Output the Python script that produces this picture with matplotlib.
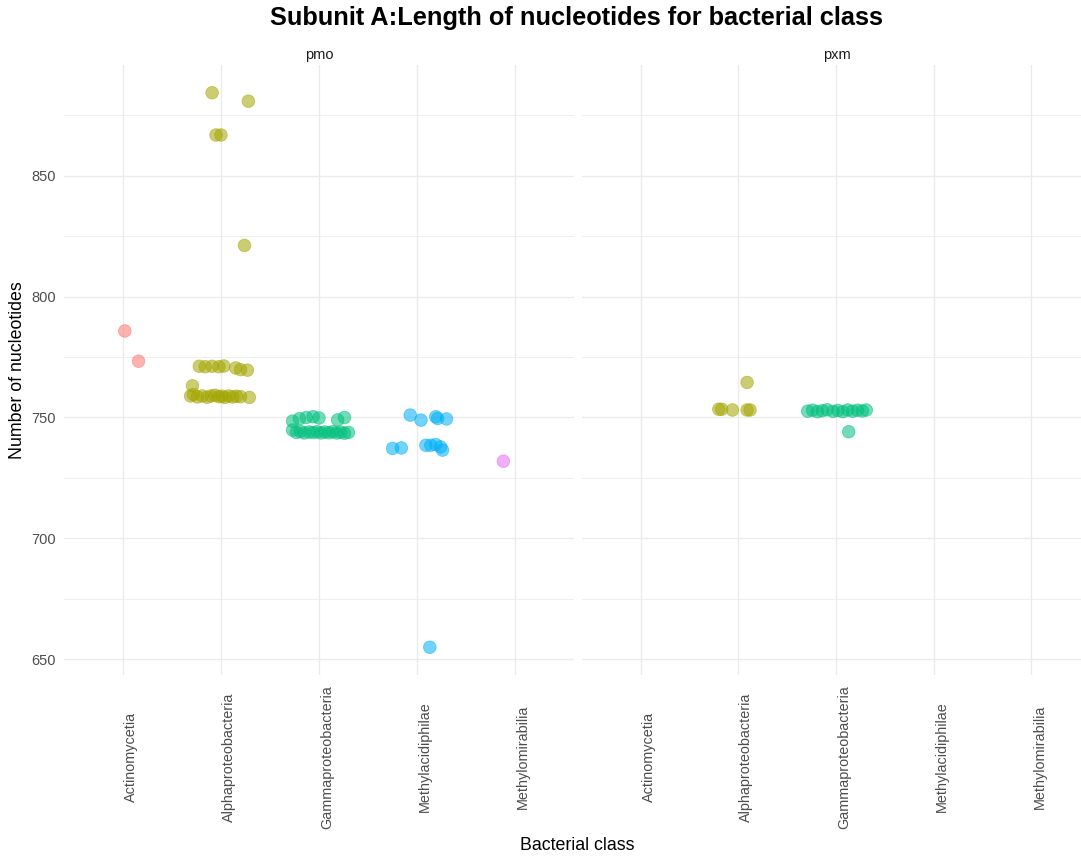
import numpy as np
import matplotlib.pyplot as plt
import matplotlib.transforms as mtransforms
from matplotlib.ticker import MultipleLocator

plt.rcParams['font.family'] = ['Liberation Sans', 'DejaVu Sans']

classes = ['Actinomycetia', 'Alphaproteobacteria', 'Gammaproteobacteria',
           'Methylacidiphilae', 'Methylomirabilia']
colors = ['#F8766D', '#A3A500', '#00BF7D', '#00B0F6', '#E76BF3']

# pmo panel: class index, jitter offset, length
pmo_class = [0, 0,
             1, 1, 1, 1, 1,
             1, 1, 1, 1, 1, 1, 1, 1,
             1,
             1, 1, 1, 1, 1, 1, 1, 1, 1, 1, 1, 1, 1, 1, 1,
             2, 2, 2, 2, 2, 2, 2,
             2, 2, 2, 2, 2, 2, 2, 2, 2, 2, 2, 2, 2, 2, 2,
             3, 3, 3, 3, 3, 3, 3, 3, 3, 3, 3, 3, 3,
             4]
pmo_jit = [0.02, 0.16,
           -0.09, 0.28, -0.05, 0.00, 0.24,
           -0.22, -0.16, -0.09, -0.02, 0.03, 0.15, 0.20, 0.27,
           -0.29,
           -0.31, -0.28, -0.24, -0.19, -0.14, -0.10, -0.06, -0.02, 0.01, 0.04, 0.08, 0.12, 0.16, 0.20, 0.29,
           -0.27, -0.20, -0.13, -0.06, 0.00, 0.19, 0.26,
           -0.27, -0.23, -0.19, -0.15, -0.10, -0.06, -0.02, 0.02, 0.06, 0.10, 0.14, 0.18, 0.22, 0.26, 0.30,
           -0.07, 0.04, 0.19, 0.21, 0.30, -0.25, -0.16, 0.09, 0.14, 0.19, 0.24, 0.26, 0.13,
           -0.12]
pmo_len = [785.8, 773.3,
           884.4, 880.9, 866.9, 866.9, 821.2,
           771.2, 771.0, 771.2, 771.0, 771.3, 770.5, 769.8, 769.6,
           763.1,
           758.9, 759.5, 758.5, 758.9, 758.4, 758.9, 759.2, 758.6, 758.8, 758.3, 758.9, 758.5, 758.8, 758.6, 758.3,
           748.5, 749.5, 750.0, 750.3, 749.8, 749.0, 750.0,
           744.8, 743.8, 744.2, 743.6, 744.0, 743.8, 744.1, 743.6, 744.0, 743.7, 744.1, 743.6, 743.9, 743.5, 743.8,
           751.0, 748.9, 750.3, 749.6, 749.4, 737.2, 737.4, 738.5, 738.5, 738.8, 737.8, 736.5, 654.9,
           731.9]

# pxm panel
pxm_class = [1, 1, 1, 1, 1, 1,
             2, 2, 2, 2, 2, 2, 2, 2, 2, 2, 2, 2, 2, 2]
pxm_jit = [-0.20, -0.17, -0.06, 0.09, 0.12, 0.09,
           -0.29, -0.24, -0.19, -0.14, -0.09, -0.03, 0.02, 0.07, 0.12, 0.17, 0.22, 0.27, 0.31, 0.13]
pxm_len = [753.4, 753.4, 753.1, 753.1, 753.1, 764.5,
           752.6, 753.0, 752.4, 752.8, 753.2, 752.5, 752.9, 752.4, 753.1, 752.6, 753.0, 752.7, 753.1, 744.1]

panels = [('pmo', pmo_class, pmo_jit, pmo_len), ('pxm', pxm_class, pxm_jit, pxm_len)]

fig = plt.figure(figsize=(10.81, 8.56), dpi=100)
W, H = 1081, 856
top, bottom = 65, 675
lefts = [(64, 574), (582, 1090)]

ymin = min(pmo_len + pxm_len)
ymax = max(pmo_len + pxm_len)
pad = (ymax - ymin) * 0.05

# ggplot puts the rotated labels a little right of the gridline
shift = mtransforms.ScaledTranslation(8 / 100, -82 / 100, fig.dpi_scale_trans)

for i, (name, cls, jit, ln) in enumerate(panels):
    l, r = lefts[i]
    ax = fig.add_axes([l / W, 1 - bottom / H, (r - l) / W, (bottom - top) / H])
    cls = np.array(cls)
    x = cls + np.array(jit)
    c = [colors[k] for k in cls]
    ax.scatter(x, ln, s=82, c=c, edgecolors=c, alpha=0.55, linewidths=0.6, zorder=3)
    ax.set_xlim(-0.6, 4.6)
    ax.set_ylim(ymin - pad, ymax + pad)
    ax.set_xticks(range(len(classes)))
    ax.tick_params(axis='x', labelbottom=False)
    trans = ax.get_xaxis_transform() + shift
    for k, cname in enumerate(classes):
        ax.text(k, 0, cname, transform=trans, rotation=90, ha='center', va='center',
                fontsize=10.4, color='#4D4D4D', clip_on=False)
    ax.yaxis.set_major_locator(MultipleLocator(50))
    ax.yaxis.set_minor_locator(MultipleLocator(25))
    ax.grid(True, which='major', color='#EBEBEB', lw=1.0, zorder=0)
    ax.grid(True, which='minor', axis='y', color='#EBEBEB', lw=0.6, zorder=0)
    ax.tick_params(axis='both', which='both', length=0)
    ax.tick_params(axis='y', labelsize=10.5, labelcolor='#4D4D4D', pad=6)
    if i > 0:
        ax.tick_params(axis='y', labelleft=False)
    for s in ax.spines.values():
        s.set_visible(False)
    ax.set_facecolor('none')
    ax.text((l + (574 - 64) / 2) / W, 1 - 55 / H, name,
            transform=fig.transFigure, ha='center', va='center', fontsize=10.5, color='#1A1A1A')

fig.text(577 / W, 1 - 18 / H, 'Subunit A:Length of nucleotides for bacterial class',
         ha='center', va='center', fontsize=18.3, fontweight='bold')
fig.text(577 / W, 1 - 845 / H, 'Bacterial class', ha='center', va='center', fontsize=12.8)
fig.text(18 / W, 1 - 370 / H, 'Number of nucleotides', ha='center', va='center',
         rotation=90, fontsize=12.8)

fig.savefig('out.png', dpi=100)
